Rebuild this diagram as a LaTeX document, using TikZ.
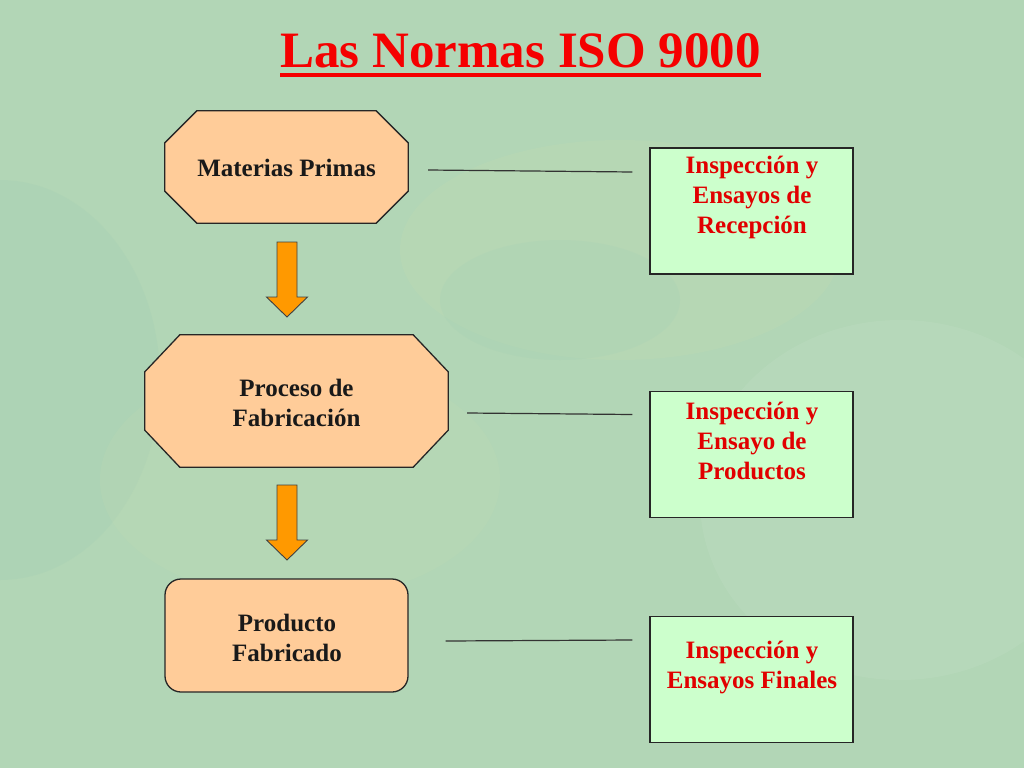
\documentclass[tikz,border=0pt]{standalone}
\usepackage{fontspec}
\setmainfont{Liberation Serif}
\usetikzlibrary{calc}
\definecolor{bgc}{RGB}{178,214,182}
\definecolor{bgb}{RGB}{160,205,180}
\definecolor{bgy}{RGB}{196,220,178}
\definecolor{peach}{RGB}{255,204,153}
\definecolor{mint}{RGB}{204,255,204}
\definecolor{orng}{RGB}{255,153,0}
\definecolor{ttl}{RGB}{245,0,0}
\definecolor{rtxt}{RGB}{225,0,0}
\tikzset{
  srcbox/.style={draw=black!85, line width=1.3pt, fill=peach, inner sep=0pt},
  frame/.style={inner sep=0pt},
  chkbox/.style={draw=black!85, line width=1.4pt, fill=mint, inner sep=0pt, minimum width=203pt, minimum height=126pt},
  blacktxt/.style={font=\bfseries\fontsize{25}{30}\selectfont, align=center, text=black!90, inner sep=0pt},
  redtxt/.style={font=\bfseries\fontsize{25}{30}\selectfont, align=center, text=rtxt, inner sep=0pt},
  link/.style={draw=black!80, line width=1.2pt},
  downarrow/.style={draw=black!75, line width=0.9pt, fill=orng}
}
\begin{document}
\begin{tikzpicture}[x=1pt,y=-1pt]
\useasboundingbox (0,0) rectangle (1024,768);
% background
\fill[bgc] (0,0) rectangle (1024,768);
\fill[bgb, opacity=0.25] (0,380) ellipse (160 and 200);
\fill[bgy, opacity=0.25] (620,250) ellipse (220 and 110);
\fill[bgb, opacity=0.2] (560,300) ellipse (120 and 60);
\fill[bgy, opacity=0.2] (300,480) ellipse (200 and 120);
\fill[white, opacity=0.06] (900,500) ellipse (200 and 180);
% title
\node[font=\bfseries\fontsize{51}{60}\selectfont, text=ttl, inner sep=0pt, anchor=base] (title) at (520.5,67) {Las Normas ISO 9000};
\fill[ttl] ($(title.base west)+(0,6)$) rectangle ($(title.base east)+(0,10)$);
% left column
\node[frame, minimum width=243pt, minimum height=112pt] (mp) at (286.5,167) {};
\draw[srcbox] ($(mp.north west)+(32,0)$) -- ($(mp.north east)+(-32,0)$) -- ($(mp.north east)+(0,32)$) -- ($(mp.south east)+(0,-32)$) -- ($(mp.south east)+(-32,0)$) -- ($(mp.south west)+(32,0)$) -- ($(mp.south west)+(0,-32)$) -- ($(mp.north west)+(0,32)$) -- cycle;
\node[blacktxt] (mpt) at (286.5,168) {Materias Primas};
\node[frame, minimum width=303pt, minimum height=132pt] (pf) at (296.5,401) {};
\draw[srcbox] ($(pf.north west)+(35,0)$) -- ($(pf.north east)+(-35,0)$) -- ($(pf.north east)+(0,37)$) -- ($(pf.south east)+(0,-37)$) -- ($(pf.south east)+(-35,0)$) -- ($(pf.south west)+(35,0)$) -- ($(pf.south west)+(0,-37)$) -- ($(pf.north west)+(0,37)$) -- cycle;
\node[blacktxt] (pft) at (296.5,403) {Proceso de\\Fabricación};
\node[srcbox, rounded corners=16pt, minimum width=243pt, minimum height=113pt] (pr) at (286.5,635.5) {};
\node[blacktxt] (prt) at (287,637.5) {Producto\\Fabricado};
% arrows
\draw[downarrow] (277,242) -- (297,242) -- (297,297) -- (307.5,297) -- (287,317) -- (266.5,297) -- (277,297) -- cycle;
\draw[downarrow] (277,485) -- (297,485) -- (297,540) -- (307.5,540) -- (287,560) -- (266.5,540) -- (277,540) -- cycle;
% right column
\node[chkbox] (b1) at (751.5,211) {};
\node[redtxt] (b1t) at (752,197.5) {Inspección y\\Ensayos de\\Recepción};
\node[chkbox] (b2) at (751.5,454.5) {};
\node[redtxt] (b2t) at (752,440.5) {Inspección y\\Ensayo de\\Productos};
\node[chkbox] (b3) at (751.5,679.5) {};
\node[redtxt] (b3t) at (752,667.5) {Inspección y\\Ensayos Finales};
% connectors
\coordinate (l1a) at ($(mp.east)+(20,3)$);
\coordinate (l1b) at ($(b1.west)+(-17,-39)$);
\draw[link] (l1a) -- (l1b);
\coordinate (l2a) at ($(pf.east)+(19,12)$);
\coordinate (l2b) at ($(b2.west)+(-17,-40)$);
\draw[link] (l2a) -- (l2b);
\coordinate (l3a) at ($(pr.east)+(37,5.5)$);
\coordinate (l3b) at ($(b3.west)+(-17,-39.5)$);
\draw[link] (l3a) -- (l3b);
\end{tikzpicture}
\end{document}
